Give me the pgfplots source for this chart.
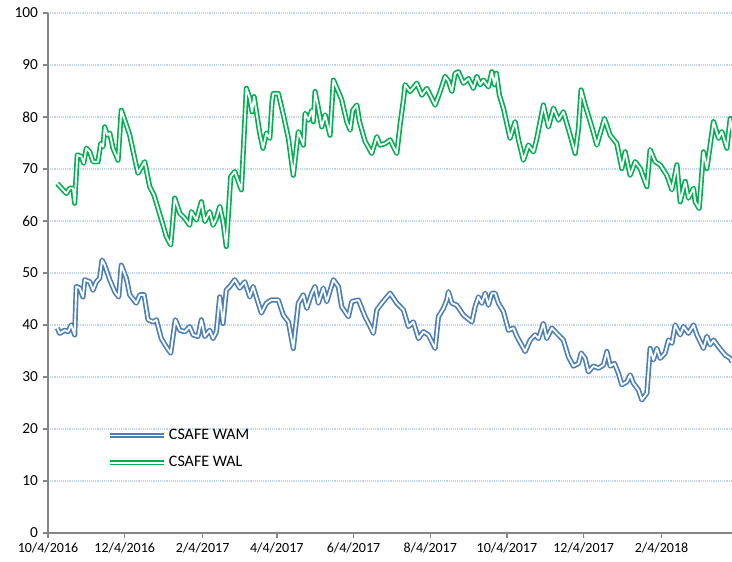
\documentclass[border=0pt]{standalone}
\usepackage{fontspec}
\setmainfont{Carlito}
\usepackage{pgfplots}
\pgfplotsset{compat=1.18}
\definecolor{wamblue}{RGB}{74,126,187}
\definecolor{walgreen}{RGB}{0,176,80}
\definecolor{gridblue}{RGB}{196,212,238}
\definecolor{axgray}{RGB}{134,134,134}
\begin{document}
\begin{tikzpicture}
\begin{axis}[
  scale only axis,
  width=513pt, height=390pt,
  xmin=0, xmax=544, ymin=0, ymax=100,
  axis x line*=bottom, axis y line*=left,
  axis line style={axgray, line width=1pt},
  tick style={axgray, line width=1pt},
  tick align=outside, major tick length=4pt,
  xtick={0,61,123,182,243,304,365,426,488},
  xticklabels={10/4/2016,12/4/2016,2/4/2017,4/4/2017,6/4/2017,8/4/2017,10/4/2017,12/4/2017,2/4/2018},
  ytick={0,10,...,100},
  x tick label style={font=\fontsize{10.5}{12}\selectfont},
  y tick label style={font=\fontsize{11.5}{13}\selectfont},
  /pgf/number format/assume math mode=true,
  ymajorgrids, grid style={gridblue, densely dotted, line width=0.9pt},
  legend style={at={(0.087,0.205)}, anchor=north west, draw=none, fill=none,
    font=\fontsize{12}{14}\selectfont, row sep=7pt, inner sep=0pt},
  legend cell align=left,
  legend image code/.code={\draw[#1] (0pt,0pt) -- (40pt,0pt);},
  every axis plot/.append style={line width=1.25pt, double=white, double distance=1.4pt, line join=round},
]
\addplot[wamblue, mark=none] coordinates {
(7.4,39.4)(9.3,38.4)(13.3,39.0)(15.9,38.7)(18.5,40.0)(21.2,38.1)(22.5,47.4)(25.2,47.1)(27.8,45.4)(29.2,48.7)
(33.2,48.3)(35.8,46.7)(38.4,48.3)(41.1,49.0)(43.0,52.5)(45.1,51.5)(49.1,48.7)(53.1,46.4)(56.2,45.4)(58.3,51.5)
(62.3,49.0)(65.0,45.8)(70.2,44.2)(73.0,45.8)(76.4,45.8)(79.6,41.0)(83.5,40.6)(86.2,41.0)(90.1,37.4)(94.1,35.8)
(97.6,34.6)(99.4,37.8)(101.3,41.0)(104.8,39.0)(108.8,38.7)(112.7,39.7)(115.4,38.1)(119.3,37.8)(122.0,41.0)(124.7,37.8)
(128.6,39.0)(131.3,37.4)(133.9,38.7)(136.6,45.4)(139.2,40.3)(141.8,46.7)(144.6,47.4)(148.5,48.7)(152.5,47.1)(156.5,48.3)
(160.5,45.4)(163.1,47.4)(165.7,45.4)(169.7,42.3)(173.7,44.2)(177.6,44.8)(183.2,44.8)(187.2,41.9)(191.2,40.6)(195.1,35.5)
(199.1,44.2)(203.1,45.8)(205.8,43.2)(209.8,46.1)(212.4,47.4)(215.0,44.2)(219.0,47.1)(221.7,44.5)(227.0,48.7)(230.9,47.4)
(233.6,43.5)(238.9,41.6)(241.6,44.5)(246.9,44.8)(252.2,41.6)(256.2,39.7)(258.8,38.4)(261.5,42.9)(265.5,44.2)(272.1,46.1)
(277.4,44.2)(282.7,42.9)(286.6,39.7)(290.6,40.6)(294.6,37.4)(298.6,38.7)(302.5,38.1)(307.9,35.5)(310.5,41.6)(314.5,43.2)
(317.2,44.8)(318.5,46.4)(321.2,44.2)(325.1,43.8)(330.4,41.9)(337.1,40.6)(339.7,43.5)(342.3,45.4)(345.0,44.2)(347.7,46.1)
(350.3,43.8)(353.0,46.1)(355.6,46.1)(358.2,44.2)(362.2,42.6)(366.2,39.0)(370.2,39.4)(372.9,37.8)(379.5,34.9)(383.5,37.1)
(387.4,38.1)(390.1,37.4)(394.0,40.3)(396.7,37.4)(400.7,39.4)(404.7,38.4)(409.9,37.1)(413.9,33.9)(417.9,32.1)(421.9,32.6)
(424.0,34.6)(427.2,33.6)(429.8,31.0)(433.8,32.1)(437.8,31.7)(441.8,32.3)(444.5,34.9)(447.1,32.1)(450.5,32.6)(453.7,30.7)
(456.4,28.5)(460.4,29.1)(463.0,30.4)(465.6,28.8)(469.6,27.5)(472.3,25.6)(476.3,26.9)(478.9,35.5)(481.5,33.3)(484.2,35.5)
(486.9,33.6)(490.8,34.6)(493.5,37.1)(496.2,36.5)(498.8,40.0)(502.8,38.1)(505.4,39.7)(509.4,38.4)(513.4,40.0)(516.1,38.1)
(521.3,35.5)(524.0,37.8)(526.6,36.2)(529.3,37.1)(533.3,35.8)(538.6,34.2)(542.6,33.6)(544.1,32.9)
};
\addlegendentry{CSAFE WAM}
\addplot[walgreen, mark=none] coordinates {
(7.4,67.2)(11.9,66.0)(14.6,65.3)(17.3,66.3)(19.9,66.3)(21.2,63.4)(23.3,72.7)(26.5,72.4)(28.4,71.1)(30.5,74.0)
(33.2,73.3)(35.8,71.4)(39.8,71.4)(41.9,74.9)(43.8,74.3)(45.1,78.1)(47.2,76.5)(49.1,76.9)(51.7,74.0)(55.7,71.7)
(58.3,81.3)(62.3,78.5)(65.0,76.5)(69.5,71.4)(71.6,69.2)(76.9,71.4)(80.9,66.6)(84.3,65.0)(87.5,62.4)(91.5,59.2)
(94.1,57.0)(97.6,55.4)(100.8,64.4)(104.8,61.5)(108.8,60.5)(112.7,59.2)(114.0,61.8)(118.0,60.2)(122.0,63.7)(124.7,59.9)
(128.6,61.8)(131.3,59.2)(133.9,60.5)(136.6,62.8)(139.2,59.9)(141.8,55.1)(145.3,68.5)(148.5,69.5)(153.8,66.0)(157.8,85.5)
(160.5,83.6)(162.3,81.0)(163.9,83.9)(168.4,76.9)(171.0,74.0)(173.7,76.9)(176.4,75.9)(178.2,82.9)(179.2,84.5)(183.2,84.5)
(187.2,80.4)(191.2,75.9)(195.1,68.8)(199.1,77.2)(203.1,74.6)(204.5,80.7)(207.1,79.4)(209.8,81.3)(211.1,79.1)(212.4,84.9)
(215.0,81.7)(217.7,78.1)(220.4,80.4)(224.3,76.5)(227.0,87.1)(230.9,84.9)(233.6,83.3)(237.6,79.1)(240.3,77.5)(242.4,81.3)
(245.6,82.3)(247.7,79.1)(252.2,75.3)(257.5,73.0)(261.5,76.2)(264.1,74.6)(268.1,74.9)(272.1,75.6)(277.4,73.0)(280.0,78.5)
(282.7,83.3)(284.0,86.2)(288.0,84.9)(293.3,86.5)(297.3,84.2)(301.3,85.5)(307.9,82.3)(311.9,84.9)(315.8,87.8)(318.5,86.9)
(321.2,84.9)(323.8,88.4)(326.4,88.7)(330.4,86.5)(334.4,87.4)(338.3,85.5)(341.1,87.8)(343.7,86.2)(346.3,87.1)(350.3,85.8)
(353.0,88.7)(355.0,86.2)(356.6,88.4)(359.0,84.2)(362.2,81.7)(367.5,75.9)(371.5,79.1)(374.2,75.6)(378.1,71.7)(382.1,74.6)
(386.1,73.3)(388.8,75.9)(394.0,82.3)(398.0,78.1)(402.0,81.7)(406.0,79.4)(409.9,81.0)(415.3,76.5)(419.3,73.0)(421.9,77.8)
(424.0,85.2)(427.2,82.3)(432.5,78.1)(436.5,74.6)(442.6,79.7)(447.1,76.5)(452.4,74.9)(456.4,70.1)(459.0,73.3)(463.0,68.8)
(467.0,71.4)(471.0,70.1)(476.3,66.6)(478.9,73.7)(482.9,71.4)(486.9,70.8)(489.5,69.8)(492.2,68.8)(496.2,66.0)(500.2,70.8)
(502.8,63.7)(506.8,67.6)(509.4,64.4)(513.4,66.3)(514.7,63.7)(517.9,62.4)(521.3,73.3)(524.0,70.1)(529.3,79.1)(533.3,75.9)
(535.9,77.2)(539.9,74.0)(542.6,79.7)(544.1,77.2)
};
\addlegendentry{CSAFE WAL}
\end{axis}
\pgfresetboundingbox
\path (current axis.south west) ++(-36pt,-21pt) coordinate (bl);
\path (current axis.north east) ++(0pt,9.75pt) coordinate (tr);
\path (bl) rectangle (tr);
\end{tikzpicture}
\end{document}
